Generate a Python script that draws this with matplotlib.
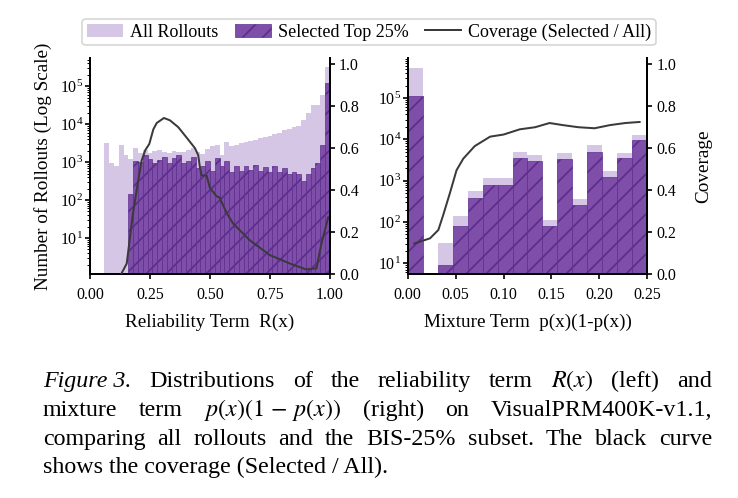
import matplotlib.pyplot as plt
import numpy as np

plt.rcParams['font.family'] = 'Liberation Serif'
plt.rcParams['mathtext.fontset'] = 'stix'
plt.rcParams['hatch.linewidth'] = 1.0

# left panel: reliability term R(x), 50 bins of width 0.02
rel_edges = np.linspace(0.0, 1.0, 51)
rel_all = [0, 0, 0, 3100, 950, 800, 2800, 1500, 1200, 2400,
           1700, 2100, 1700, 2000, 2100, 1800, 1750, 2000, 1900, 1800,
           2100, 2300, 1800, 1600, 2200, 2700, 2800, 1500, 3300, 2700,
           2900, 3200, 3400, 3500, 3900, 4200, 4600, 5000, 5400, 6000,
           6800, 7500, 8200, 9000, 12500, 20000, 32000, 32000, 58000, 310000]
rel_sel = [0, 0, 0, 0, 0, 0, 0, 0, 145, 1100,
           1000, 1500, 1200, 950, 1150, 1400, 950, 1250, 1500, 950,
           1100, 1350, 700, 800, 1100, 600, 1300, 800, 1100, 550,
           800, 600, 800, 620, 850, 600, 750, 550, 800, 560,
           700, 500, 550, 480, 320, 480, 700, 950, 2800, 120000]
rel_cov_x = [0.13, 0.153, 0.178, 0.20, 0.215, 0.23, 0.247, 0.264, 0.278, 0.308,
             0.333, 0.368, 0.403, 0.4375, 0.451, 0.458, 0.465, 0.486, 0.50, 0.514,
             0.528, 0.54, 0.57, 0.597, 0.667, 0.75, 0.833, 0.90, 0.944, 0.965, 0.993]
rel_cov_y = [0.0, 0.05, 0.28, 0.44, 0.54, 0.59, 0.62, 0.69, 0.72, 0.744,
             0.733, 0.70, 0.65, 0.60, 0.567, 0.51, 0.47, 0.47, 0.41, 0.39,
             0.37, 0.365, 0.29, 0.24, 0.16, 0.09, 0.05, 0.022, 0.027, 0.146, 0.27]

# right panel: mixture term p(x)(1-p(x)), 16 bins from 0 to 0.25
mix_edges = np.linspace(0.0, 0.25, 17)
mix_all = [530000, 0, 31, 140, 570, 1150, 1150, 5000, 4200, 112,
           4600, 360, 7100, 1700, 4650, 12700]
mix_sel = [114000, 0, 9, 78, 370, 790, 790, 3500, 3000, 81,
           3300, 260, 5000, 1200, 3600, 9400]
mix_cov_x = [0.0069, 0.0146, 0.0233, 0.032, 0.037, 0.044, 0.051, 0.058, 0.070, 0.086,
             0.100, 0.117, 0.133, 0.148, 0.162, 0.178, 0.195, 0.211, 0.227, 0.242]
mix_cov_y = [0.145, 0.157, 0.17, 0.21, 0.28, 0.385, 0.495, 0.55, 0.61, 0.655,
             0.665, 0.69, 0.70, 0.72, 0.71, 0.70, 0.695, 0.71, 0.72, 0.725]

LIGHT = '#d6c6e5'
DARK = '#7e4ea8'
HATCH = '#5a2c8c'
LINE = '#3a3a3a'

fig = plt.figure(figsize=(6.15, 4.15), dpi=120)
ax1 = fig.add_axes([0.122, 0.4498, 0.325, 0.4337])
ax2 = fig.add_axes([0.5524, 0.4498, 0.3247, 0.4337])


def draw_panel(ax, edges, all_counts, sel_counts, cov_x, cov_y, ylim, xticks, xlabel):
    w = np.diff(edges)
    ax.bar(edges[:-1], all_counts, width=w, align='edge', color=LIGHT,
           linewidth=0, label='All Rollouts')
    ax.bar(edges[:-1], sel_counts, width=w, align='edge', color=DARK,
           edgecolor=HATCH, linewidth=0.4, hatch='//', label='Selected Top 25%')
    ax.set_yscale('log')
    ax.set_ylim(*ylim)
    ax.set_xlim(edges[0], edges[-1])
    ax.set_xticks(xticks)
    ax.set_xticklabels(['%.2f' % t for t in xticks])
    ax.set_xlabel(xlabel, fontsize=11.5, labelpad=6)
    for s in ['top', 'right']:
        ax.spines[s].set_visible(False)
    for s in ['left', 'bottom']:
        ax.spines[s].set_linewidth(1.2)
    ax.tick_params(which='major', length=3, width=1.0, labelsize=9.5)
    ax.tick_params(axis='y', which='minor', length=1.8, width=0.6)
    ax.tick_params(axis='x', pad=5)
    ax.tick_params(axis='y', which='both', pad=1)

    axr = ax.twinx()
    axr.plot(cov_x, cov_y, color=LINE, lw=1.2, label='Coverage (Selected / All)')
    axr.set_ylim(0, 1.03)
    yt = [0.0, 0.2, 0.4, 0.6, 0.8, 1.0]
    axr.set_yticks(yt)
    axr.set_yticklabels(['%.1f' % t for t in yt])
    for s in ['top', 'left', 'bottom']:
        axr.spines[s].set_visible(False)
    axr.spines['right'].set_linewidth(1.2)
    axr.tick_params(length=3, width=1.0, labelsize=9.5, pad=2.4)
    return axr


ax1r = draw_panel(ax1, rel_edges, rel_all, rel_sel, rel_cov_x, rel_cov_y,
                  (1.13, 5.5e5), [0.0, 0.25, 0.5, 0.75, 1.0], 'Reliability Term  R(x)')
ax2r = draw_panel(ax2, mix_edges, mix_all, mix_sel, mix_cov_x, mix_cov_y,
                  (5.5, 9.3e5), [0.0, 0.05, 0.10, 0.15, 0.20, 0.25],
                  'Mixture Term  p(x)(1-p(x))')

ax1.set_ylabel('Number of Rollouts (Log Scale)', fontsize=11.5)
ax1.yaxis.set_label_coords(-0.16, 0.5)
ax2r.set_ylabel('Coverage', fontsize=11.5)
ax2r.yaxis.set_label_coords(1.2, 0.5)

h1, l1 = ax1.get_legend_handles_labels()
h2, l2 = ax1r.get_legend_handles_labels()
fig.legend(h1 + h2, l1 + l2, loc='upper center', bbox_to_anchor=(0.5, 0.962),
           ncol=3, fontsize=10.8, borderpad=0.25, handletextpad=0.4,
           columnspacing=0.9, borderaxespad=0, edgecolor='#cccccc')

# caption, justified like the paper
W, H = 738.0, 498.0
cap_size = 14.4
x_left, x_right = 43 / W, 712 / W
cap_lines = [
    [('Figure 3.', 'italic'), 'Distributions', 'of', 'the', 'reliability', 'term',
     '$R(x)$', '(left)', 'and'],
    ['mixture', 'term', r'$p(x)(1\,-\,p(x))$', '(right)', 'on', 'VisualPRM400K-v1.1,'],
    ['comparing', 'all', 'rollouts', 'and', 'the', 'BIS-25%', 'subset.', 'The',
     'black', 'curve'],
]
baselines = [387, 416, 445, 473]
renderer = fig.canvas.get_renderer()
for words, yb in zip(cap_lines, baselines[:3]):
    texts = []
    for wd in words:
        style = 'normal'
        if isinstance(wd, tuple):
            wd, style = wd
        t = fig.text(0, 1 - yb / H, wd, fontsize=cap_size, fontstyle=style,
                     va='baseline', ha='left')
        texts.append(t)
    widths = [t.get_window_extent(renderer).width / W for t in texts]
    gap = (x_right - x_left - sum(widths)) / (len(texts) - 1)
    x = x_left
    for t, wdt in zip(texts, widths):
        t.set_x(x)
        x += wdt + gap
fig.text(x_left, 1 - baselines[3] / H, 'shows the coverage (Selected / All).',
         fontsize=cap_size, va='baseline', ha='left')

fig.savefig('out.png', dpi=120)
